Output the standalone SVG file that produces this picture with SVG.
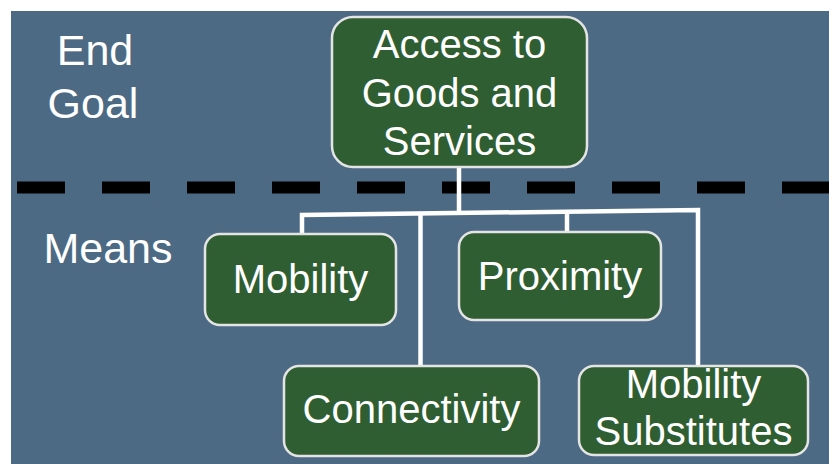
<svg xmlns="http://www.w3.org/2000/svg" width="829" height="464" viewBox="0 0 829 464">
  <style>
    .node rect { fill: #2F5E32; stroke: #E4E4E4; stroke-width: 2.5; }
    .node text { fill: #FFFFFF; font-family: "Liberation Sans", Arial, sans-serif; font-size: 40px; text-anchor: middle; }
    .label { fill: #FFFFFF; font-family: "Liberation Sans", Arial, sans-serif; font-size: 43px; text-anchor: middle; }
    .wire { fill: none; stroke: #FFFFFF; stroke-width: 4.5; stroke-linejoin: miter; }
    .divider { stroke: #000000; stroke-width: 12; stroke-dasharray: 48 37; }
  </style>

  <!-- page and panel -->
  <rect x="0" y="0" width="829" height="464" fill="#FFFFFF"/>
  <rect x="11" y="11" width="818" height="453" fill="#4D6A84"/>

  <!-- side labels -->
  <text class="label" x="95" y="65">End</text>
  <text class="label" x="93" y="118">Goal</text>
  <text class="label" x="108" y="263">Means</text>

  <!-- goal / means divider -->
  <line class="divider" x1="17" y1="187.5" x2="829" y2="187.5"/>

  <!-- tree connectors -->
  <g id="connectors">
    <line class="wire" x1="459" y1="167" x2="459" y2="213"/>
    <polyline class="wire" points="302,234 302,215 698,210 698,366"/>
    <line class="wire" x1="420.5" y1="213.5" x2="420.5" y2="366"/>
    <line class="wire" x1="567" y1="211.3" x2="567" y2="232"/>
  </g>

  <g id="access" class="node">
    <rect x="332" y="17" width="255" height="150" rx="21"/>
    <text x="459.5" y="58">Access to</text>
    <text x="459.5" y="107">Goods and</text>
    <text x="459.5" y="155">Services</text>
  </g>

  <g id="mobility" class="node">
    <rect x="205" y="234" width="191" height="91" rx="15"/>
    <text x="300.5" y="293">Mobility</text>
  </g>

  <g id="proximity" class="node">
    <rect x="459" y="232" width="202" height="88" rx="15"/>
    <text x="560" y="290">Proximity</text>
  </g>

  <g id="connectivity" class="node">
    <rect x="284" y="366" width="255" height="90" rx="15"/>
    <text x="411.5" y="423">Connectivity</text>
  </g>

  <g id="mobility-substitutes" class="node">
    <rect x="579" y="366" width="229" height="89" rx="15"/>
    <text x="693.5" y="398">Mobility</text>
    <text x="693.5" y="445">Substitutes</text>
  </g>
</svg>
